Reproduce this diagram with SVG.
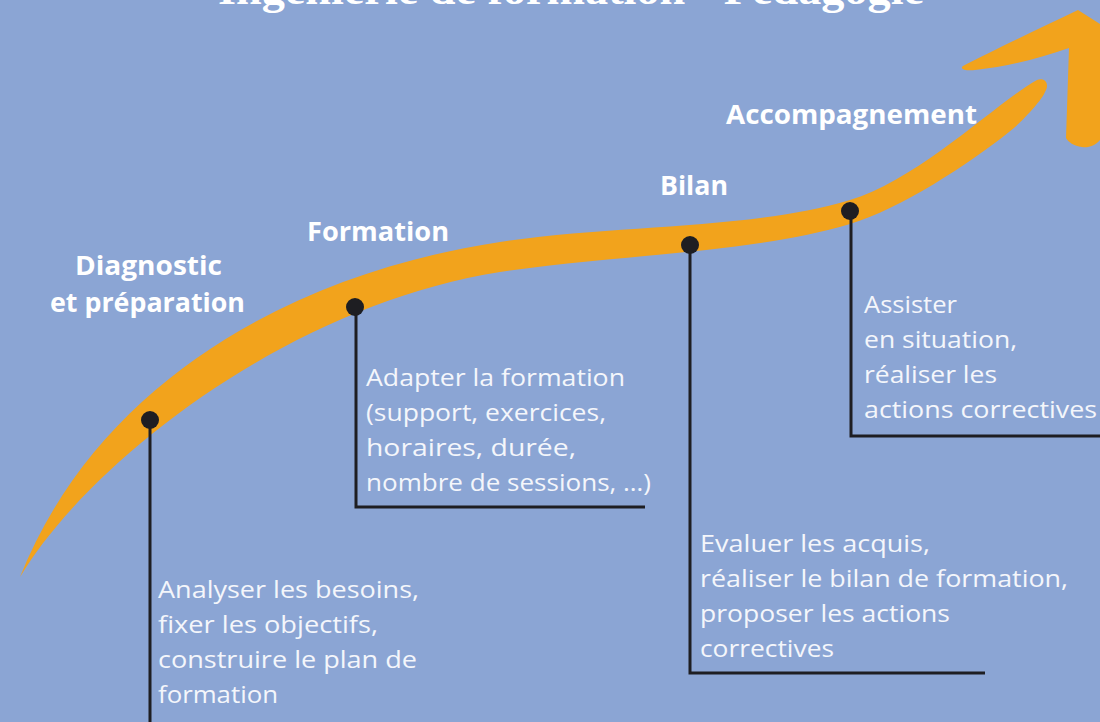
<svg xmlns="http://www.w3.org/2000/svg" width="1100" height="722" viewBox="0 0 1100 722">
<style>
.bg{fill:#8ba5d4}
.band{fill:#f2a31c}
.head{font-family:"Open Sans",Lato,"Liberation Sans",sans-serif;font-weight:bold;font-size:27px;fill:#ffffff}
.body{font-family:"Open Sans",Lato,"Liberation Sans",sans-serif;font-weight:400;font-size:24px;fill:#f4f6fb;font-variant-ligatures:none}
.title{font-family:"Liberation Serif",serif;font-weight:bold;font-size:44px;fill:#ffffff}
.dot{fill:#1e1e22}
.conn{fill:none;stroke:#1e1e22;stroke-width:3}
</style>
<rect class="bg" x="0" y="0" width="1100" height="722"/>
<g id="title"><text class="title" x="218" y="4" textLength="706" lengthAdjust="spacingAndGlyphs">Ingénierie de formation - Pédagogie</text></g>
<g id="curve">
<path class="band" d="M20,577 C100,377 300,272 500,242 C620,224 750,230 850,200 C920,179 997,102 1037,80 C1045,77 1050,84 1045,92 C1042,100 1022,122 1009,132 C969,164 900,209 850,224 C750,254 620,254 500,272 C290,305 90,460 20,577 Z"/>
<path class="band" d="M963,66 C990,52 1030,33 1078,10 L1100,24 L1100,140 C1095,146 1088,148 1082,147 C1074,146 1068,142 1066,138 L1069,48 C1040,58 1010,66 975,70 C966,71 959,69 963,66 Z"/>
</g>
<g id="connectors">
<path class="conn" d="M150,420 V722"/>
<path class="conn" d="M356,307 V507 H645"/>
<path class="conn" d="M690,245 V673 H985"/>
<path class="conn" d="M851,211 V436 H1100"/>
</g>
<g id="node-diagnostic">
<circle class="dot" cx="150" cy="420" r="9"/>
<text class="head" x="75" y="275" textLength="147" lengthAdjust="spacingAndGlyphs">Diagnostic</text>
<text class="head" x="50" y="312" textLength="195" lengthAdjust="spacingAndGlyphs">et préparation</text>
<text class="body" x="158" y="598" textLength="261" lengthAdjust="spacingAndGlyphs">Analyser les besoins,</text>
<text class="body" x="158" y="633" textLength="220" lengthAdjust="spacingAndGlyphs">fixer les objectifs,</text>
<text class="body" x="158" y="668" textLength="259" lengthAdjust="spacingAndGlyphs">construire le plan de</text>
<text class="body" x="158" y="703" textLength="120" lengthAdjust="spacingAndGlyphs">formation</text>
</g>
<g id="node-formation">
<circle class="dot" cx="355" cy="307" r="9"/>
<text class="head" x="307" y="241" textLength="142" lengthAdjust="spacingAndGlyphs">Formation</text>
<text class="body" x="366" y="386" textLength="259" lengthAdjust="spacingAndGlyphs">Adapter la formation</text>
<text class="body" x="366" y="421" textLength="240" lengthAdjust="spacingAndGlyphs">(support, exercices,</text>
<text class="body" x="366" y="456" textLength="210" lengthAdjust="spacingAndGlyphs">horaires, durée,</text>
<text class="body" x="366" y="491" textLength="285" lengthAdjust="spacingAndGlyphs">nombre de sessions, …)</text>
</g>
<g id="node-bilan">
<circle class="dot" cx="690" cy="245" r="9"/>
<text class="head" x="660" y="195" textLength="68" lengthAdjust="spacingAndGlyphs">Bilan</text>
<text class="body" x="700" y="552" textLength="230" lengthAdjust="spacingAndGlyphs">Evaluer les acquis,</text>
<text class="body" x="700" y="587" textLength="368" lengthAdjust="spacingAndGlyphs">réaliser le bilan de formation,</text>
<text class="body" x="700" y="622" textLength="250" lengthAdjust="spacingAndGlyphs">proposer les actions</text>
<text class="body" x="700" y="657" textLength="134" lengthAdjust="spacingAndGlyphs">correctives</text>
</g>
<g id="node-accompagnement">
<circle class="dot" cx="850" cy="211" r="9"/>
<text class="head" x="726" y="124" textLength="251" lengthAdjust="spacingAndGlyphs">Accompagnement</text>
<text class="body" x="864" y="313" textLength="93" lengthAdjust="spacingAndGlyphs">Assister</text>
<text class="body" x="864" y="348" textLength="153" lengthAdjust="spacingAndGlyphs">en situation,</text>
<text class="body" x="864" y="383" textLength="133" lengthAdjust="spacingAndGlyphs">réaliser les</text>
<text class="body" x="864" y="418" textLength="233" lengthAdjust="spacingAndGlyphs">actions correctives</text>
</g>
</svg>
